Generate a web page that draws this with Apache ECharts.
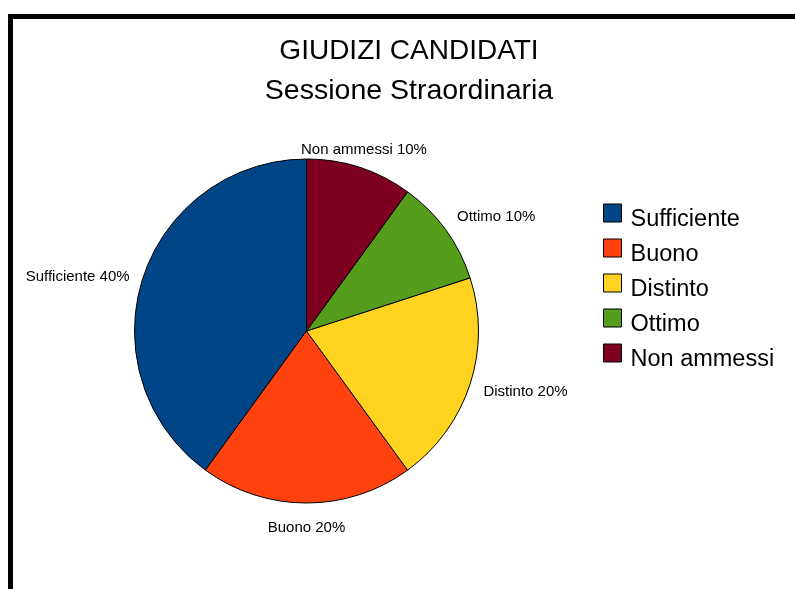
<!DOCTYPE html>
<html>
<head>
<meta charset="utf-8">
<script src="https://cdn.jsdelivr.net/npm/echarts@6/dist/echarts.min.js"></script>
<style>
  html, body { margin: 0; padding: 0; background: #fff; }
  #chart { width: 795px; height: 589px; }
</style>
</head>
<body>
<div id="chart"></div>
<script>
const categories = ['Sufficiente', 'Buono', 'Distinto', 'Ottimo', 'Non ammessi'];
const values = [40, 20, 20, 10, 10];
const colors = ['#004586', '#ff420e', '#ffd320', '#579d1c', '#7e0021'];

const titleText = 'GIUDIZI CANDIDATI';
const subtitleText = 'Sessione Straordinaria';

const font = 'Liberation Sans, Arial, sans-serif';

// alignment of each label, picked from the direction of its slice middle
const total = values.reduce((a, b) => a + b, 0);
let acc = 0;
const labelAlign = values.map(v => {
    const mid = (acc + v / 2) / total;
    acc += v;
    const ang = (90 + 360 * mid) * Math.PI / 180; // counter-clockwise from top
    const dx = Math.cos(ang), dy = -Math.sin(ang);
    return {
        align: dx > 0.5 ? 'left' : (dx < -0.5 ? 'right' : 'center'),
        verticalAlign: dy < -0.5 ? 'bottom' : (dy > 0.5 ? 'top' : 'middle'),
        dy: 3
    };
});

const myChart = echarts.init(document.getElementById('chart'), null, { renderer: 'canvas' });

const option = {
    backgroundColor: '#fff',
    animation: false,
    color: colors,
    title: {
        text: titleText,
        subtext: subtitleText,
        left: 409,
        textAlign: 'center',
        top: 37,
        padding: 0,
        itemGap: 12,
        textStyle: { fontFamily: font, fontSize: 28, fontWeight: 'normal', color: '#000' },
        subtextStyle: { fontFamily: font, fontSize: 28.5, color: '#000' }
    },
    legend: {
        orient: 'vertical',
        left: 603,
        top: 194,
        padding: 0,
        itemWidth: 18,
        itemHeight: 18,
        itemGap: -3,
        icon: 'rect',
        itemStyle: { borderColor: '#000', borderWidth: 1 },
        formatter: '{t|{name}}',
        textStyle: {
            fontFamily: font, fontSize: 23.5, lineHeight: 18, color: '#000',
            rich: { t: { fontFamily: font, fontSize: 23.5, lineHeight: 18, color: '#000', padding: [14, 0, 0, 4] } }
        },
        data: categories
    },
    graphic: [
        { type: 'rect', shape: { x: 8, y: 14, width: 787, height: 5 }, style: { fill: '#000' } },
        { type: 'rect', shape: { x: 8, y: 14, width: 5, height: 575 }, style: { fill: '#000' } }
    ],
    series: [
        {
            type: 'pie',
            center: [306.5, 331],
            radius: 172,
            startAngle: 90,
            clockwise: false,
            avoidLabelOverlap: false,
            itemStyle: { borderColor: '#000', borderWidth: 1 },
            label: {
                show: true,
                position: 'outside',
                formatter: '{b} {d}%',
                fontFamily: font,
                fontSize: 15,
                color: '#000',
                distanceToLabelLine: 0
            },
            labelLine: { show: false, length: 14, length2: 0 },
            labelLayout: function (params) {
                return labelAlign[params.dataIndex];
            },
            emphasis: { disabled: true },
            data: categories.map((name, i) => ({ name: name, value: values[i] }))
        }
    ]
};

myChart.setOption(option);
</script>
</body>
</html>
